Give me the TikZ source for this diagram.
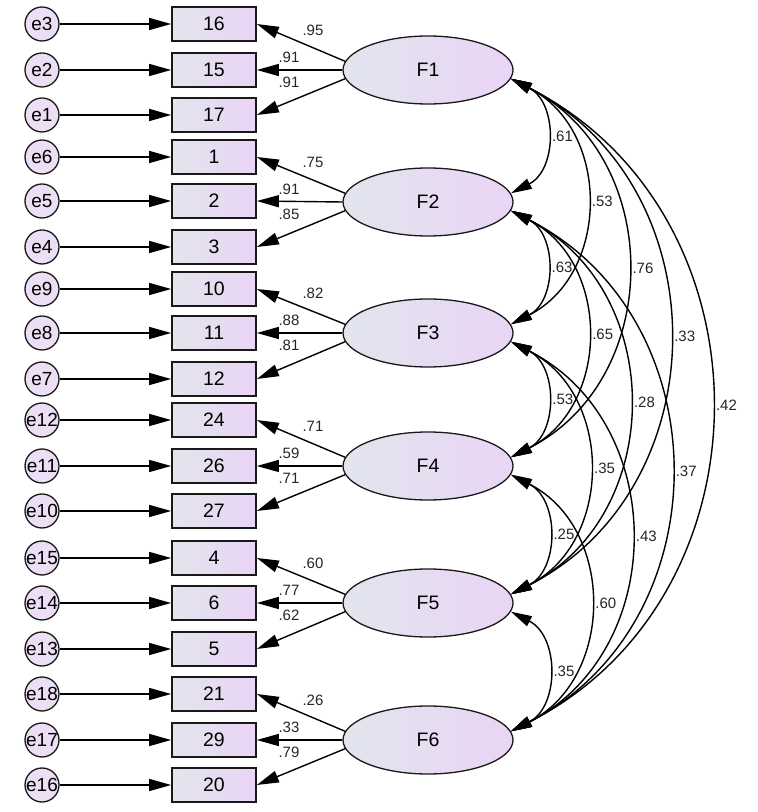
\documentclass[tikz,border=0pt]{standalone}
\usepackage{fontspec}
\setmainfont{Liberation Sans}
\usetikzlibrary{arrows.meta,shapes.geometric}
\definecolor{shL}{RGB}{226,229,238}
\definecolor{shR}{RGB}{234,212,245}
\definecolor{ecol}{RGB}{236,222,244}
\begin{document}
\begin{tikzpicture}[x=1pt,y=1pt,
  obs/.style={draw=black!90, line width=1.7pt, minimum width=84pt, minimum height=34pt, inner sep=0pt, left color=shL, right color=shR, font=\fontsize{19.5}{19.5}\selectfont},
  err/.style={circle, draw=black!90, line width=1.3pt, minimum size=34pt, inner sep=0pt, fill=ecol},
  errtext/.style={font=\fontsize{19}{19}\selectfont, inner sep=0pt},
  lat/.style={ellipse, draw=black!90, line width=1.3pt, minimum width=170pt, minimum height=68pt, inner sep=0pt, left color=shL, right color=shR, font=\fontsize{19.5}{19.5}\selectfont},
  arr/.style={line width=1.4pt, -{Triangle[length=22pt,width=12pt]}},
  cov/.style={line width=1.4pt, {Triangle[length=21pt,width=11pt]}-{Triangle[length=21pt,width=11pt]}, bend left=63, looseness=1.17},
  lbl/.style={font=\fontsize{15}{15}\selectfont, inner sep=1pt, text=black!85},
  clbl/.style={lbl, anchor=west, xshift=4.5pt}
]
\useasboundingbox (0,0) rectangle (758,812);

% observed variables and errors
\foreach \i/\y/\t/\e in {1/788/16/e3, 2/742/15/e2, 3/697/17/e1, 4/655/1/e6, 5/611/2/e5, 6/565/3/e4,
  7/523/10/e9, 8/479/11/e8, 9/433/12/e7, 10/392/24/e12, 11/346/26/e11, 12/301/27/e10,
  13/254/4/e15, 14/209/6/e14, 15/163/5/e13, 16/118/21/e18, 17/72/29/e17, 18/27/20/e16}{
  \node[obs] (b\i) at (214,\y) {\t};
  \node[err, label={[errtext]center:\e}] (e\i) at (42,\y) {};
  \draw[arr] (e\i) -- (b\i.west);
}

% latent factors
\node[lat] (F1) at (428,742) {F1};
\node[lat] (F2) at (428,610) {F2};
\node[lat] (F3) at (428,479) {F3};
\node[lat] (F4) at (428,346) {F4};
\node[lat] (F5) at (428,209) {F5};
\node[lat] (F6) at (428,72) {F6};

% loadings
\foreach \f/\a/\b/\c/\la/\lb/\lc in {1/1/2/3/.95/.91/.91, 2/4/5/6/.75/.91/.85, 3/7/8/9/.82/.88/.81,
  4/10/11/12/.71/.59/.71, 5/13/14/15/.60/.77/.62, 6/16/17/18/.26/.33/.79}{
  \draw[arr] (F\f.174) -- (b\a.east);
  \draw[arr] (F\f.west) -- (b\b.east);
  \draw[arr] (F\f.186) -- (b\c.east);
  \node[lbl] at ([shift={(-115,40)}]F\f.center) {\la};
  \node[lbl] at ([shift={(-139,13)}]F\f.center) {\lb};
  \node[lbl] at ([shift={(-139,-12)}]F\f.center) {\lc};
}

% covariances
\draw[cov] (F1.-6) to node[midway, clbl] {.61} (F2.6);
\draw[cov] (F1.-6) to node[midway, clbl] {.53} (F3.6);
\draw[cov] (F1.-6) to node[midway, clbl] {.76} (F4.6);
\draw[cov] (F1.-6) to node[midway, clbl] {.33} (F5.6);
\draw[cov] (F1.-6) to node[midway, clbl] {.42} (F6.6);
\draw[cov] (F2.-6) to node[midway, clbl] {.63} (F3.6);
\draw[cov] (F2.-6) to node[midway, clbl] {.65} (F4.6);
\draw[cov] (F2.-6) to node[midway, clbl] {.28} (F5.6);
\draw[cov] (F2.-6) to node[midway, clbl] {.37} (F6.6);
\draw[cov] (F3.-6) to node[midway, clbl] {.53} (F4.6);
\draw[cov] (F3.-6) to node[midway, clbl] {.35} (F5.6);
\draw[cov] (F3.-6) to node[midway, clbl] {.43} (F6.6);
\draw[cov] (F4.-6) to node[midway, clbl] {.25} (F5.6);
\draw[cov] (F4.-6) to node[midway, clbl] {.60} (F6.6);
\draw[cov] (F5.-6) to node[midway, clbl] {.35} (F6.6);
\end{tikzpicture}
\end{document}
